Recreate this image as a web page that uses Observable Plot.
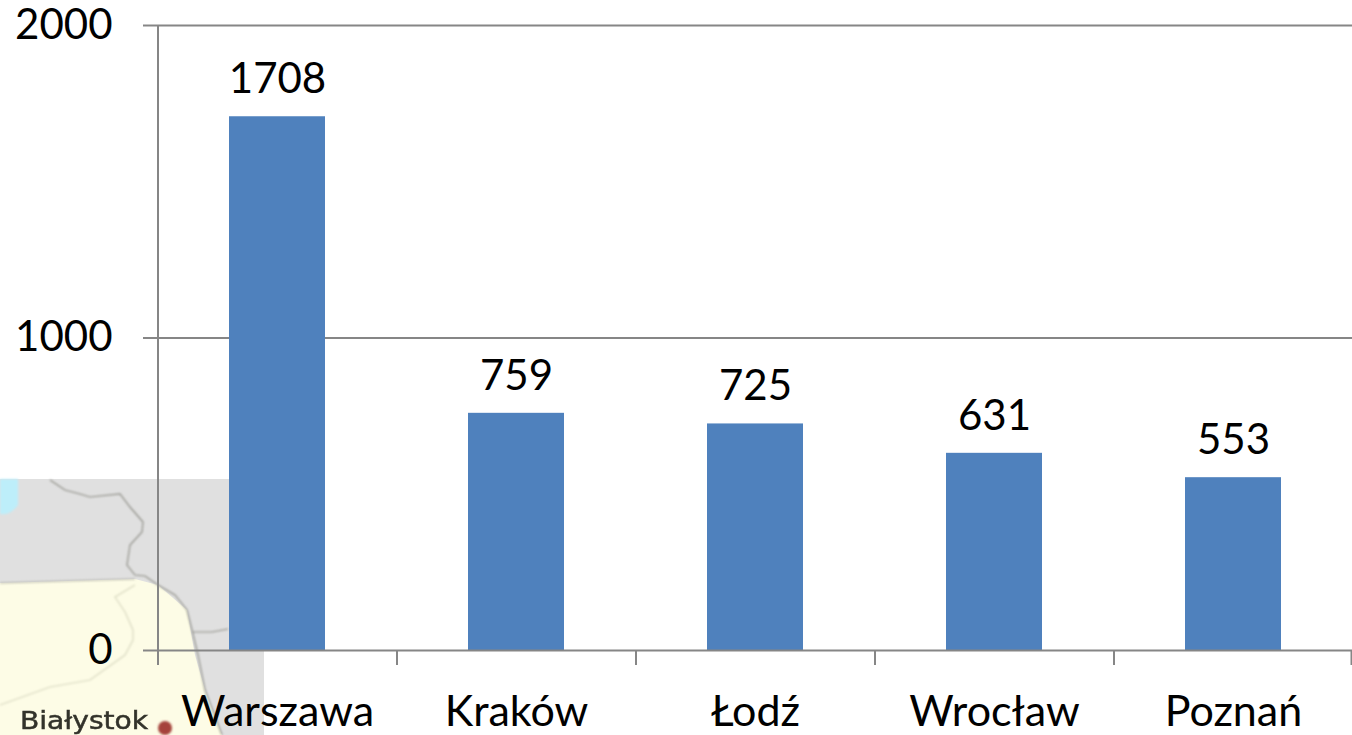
<!DOCTYPE html>
<html>
<head>
<meta charset="utf-8">
<script src="https://cdn.jsdelivr.net/npm/d3@7"></script>
<script src="https://cdn.jsdelivr.net/npm/@observablehq/plot@0.6"></script>
<style>
html,body{margin:0;padding:0;background:#fff;overflow:hidden}
#wrap{position:relative;width:1352px;height:735px}
#map,#chart{position:absolute;left:0;top:0}
#chart svg{background:transparent;display:block}
</style>
</head>
<body>
<div id="wrap">
<svg id="map" width="1352" height="735" viewBox="0 0 1352 735">
  <defs><filter id="b"><feGaussianBlur stdDeviation="0.8"/></filter><filter id="t"><feGaussianBlur stdDeviation="0.5"/></filter></defs>
  <rect x="0" y="479" width="264" height="256" fill="#e0e0e0"/>
  <path d="M0 479H18V505Q10 516 0 514Z" fill="#bdeefa" filter="url(#b)"/>
  <path d="M0 583L135 579L158 585L187 610L195 655L205 690L222 735H0Z" fill="#fdfce6"/>
  <g fill="none" stroke="#8e8e86" stroke-width="1.2" filter="url(#b)">
    <path d="M50 480L65 490L80 494L90 497L120 494L130 507L143 522L142 532L130 545L127 565L135 575L145 576L158 585L175 595L187 610L192 630L198 655L205 690L222 735"/>
    <path d="M192 632L212 632L228 629"/>
    <path d="M0 583L135 579" stroke="#a9a9a0"/>
    <path d="M135 585L115 597L125 612L133 630L133 640L125 655L90 680L50 687L0 705" stroke="#d8d8c0"/>
  </g>
  <text x="20" y="729" font-family="DejaVu Sans" font-size="24" fill="#33332b" stroke="#33332b" stroke-width="0.5" textLength="128" lengthAdjust="spacingAndGlyphs" filter="url(#t)">Białystok</text>
  <circle cx="165" cy="728" r="7" fill="#a5433a" filter="url(#b)"/>
</svg>
<div id="chart"></div>
</div>
<script>
const cities = ["Warszawa", "Kraków", "Łodź", "Wrocław", "Poznań"];
const values = [1708, 759, 725, 631, 553];
const yTicks = [0, 1000, 2000];

const font = "Lato, sans-serif";
const axisColor = "#868686";
const step = (1352.5 - 157.5) / cities.length;
const rows = cities.map((city, i) => ({city, value: values[i]}));
const tickLen = 48; // about 15px in data units

const plot = Plot.plot({
  width: 1352,
  height: 735,
  marginLeft: 158,
  marginTop: 25,
  marginBottom: 85,
  marginRight: 0,
  style: {background: "transparent", fontFamily: font, overflow: "visible"},
  x: {domain: cities, range: [157.5, 1352.5], paddingInner: 0.6, paddingOuter: 0.3, align: 0.5, label: null},
  y: {domain: [0, 2000], range: [650, 25], label: null},
  marks: [
    Plot.ruleY(yTicks.slice(1), {stroke: axisColor, strokeWidth: 2}),
    Plot.barY(rows, {x: "city", y: "value", fill: "#4f81bd"}),
    Plot.ruleY([0], {stroke: axisColor, strokeWidth: 2}),
    Plot.axisY({ticks: yTicks, tickSize: 15, tickPadding: 31, stroke: axisColor, strokeWidth: 2, fill: "#000", fontSize: 42, fontFamily: font, label: null, tickFormat: d => String(d)}),
    Plot.ruleX(cities, {x: d => d, dx: -step / 2, y1: 0, y2: -tickLen, stroke: axisColor, strokeWidth: 2}),
    Plot.ruleX(cities.slice(-1), {x: d => d, dx: step / 2 - 1.5, y1: 0, y2: -tickLen, stroke: axisColor, strokeWidth: 2}),
    Plot.ruleX(cities.slice(0, 1), {x: d => d, dx: -step / 2, y1: 0, y2: 2000, stroke: axisColor, strokeWidth: 2}),
    Plot.text(rows, {x: "city", y: "value", text: d => String(d.value), dy: -37, fontSize: 42, fontFamily: font, fill: "#000"}),
    Plot.axisX({tickSize: 0, tickPadding: 45, fontSize: 43, fontFamily: font, fill: "#000", label: null})
  ]
});
document.getElementById("chart").appendChild(plot);
</script>
</body>
</html>
